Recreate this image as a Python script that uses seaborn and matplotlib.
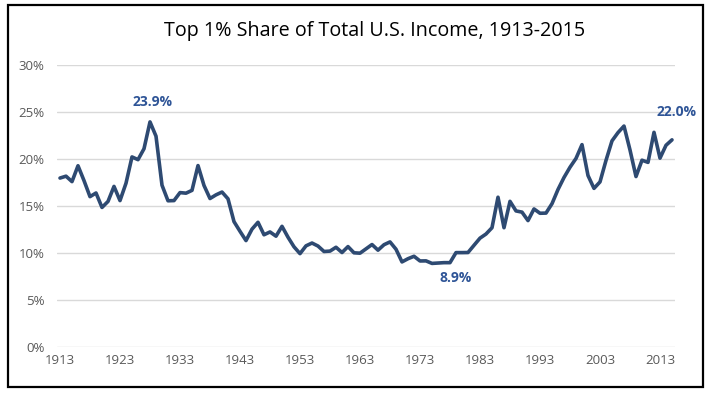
import matplotlib
matplotlib.use("Agg")
import matplotlib.pyplot as plt
import matplotlib.patches as patches
import seaborn as sns
import pandas as pd

years = list(range(1913, 2016))
top1_share = [
    17.96, 18.16, 17.58, 19.27, 17.69, 15.98, 16.37, 14.83, 15.47, 17.07,
    15.56, 17.41, 20.21, 19.92, 21.08, 23.94, 22.42, 17.20, 15.54, 15.56,
    16.41, 16.35, 16.65, 19.29, 17.17, 15.78, 16.17, 16.47, 15.75, 13.32,
    12.29, 11.30, 12.52, 13.25, 11.92, 12.22, 11.77, 12.82, 11.66, 10.64,
    9.91, 10.74, 11.04, 10.72, 10.14, 10.18, 10.59, 10.03, 10.66, 10.00,
    9.96, 10.42, 10.88, 10.28, 10.86, 11.16, 10.38, 9.03, 9.37, 9.63,
    9.13, 9.14, 8.87, 8.91, 8.95, 8.95, 10.02, 10.02, 10.03, 10.80,
    11.56, 12.00, 12.67, 15.92, 12.67, 15.48, 14.46, 14.33, 13.43, 14.67,
    14.21, 14.23, 15.23, 16.74, 18.02, 19.11, 20.05, 21.52, 18.23, 16.86,
    17.55, 19.84, 21.92, 22.80, 23.50, 20.95, 18.12, 19.86, 19.63, 22.83,
    20.08, 21.45, 22.03,
]
xtick_years = list(range(1913, 2016, 10))
ytick_values = [0, 5, 10, 15, 20, 25, 30]
annot_years = [1928, 1976, 2015]
annot_labels = ["23.9%", "8.9%", "22.0%"]

title = "Top 1% Share of Total U.S. Income, 1913-2015"

sns.set_theme(style="white")
plt.rcParams["font.family"] = ["Open Sans", "DejaVu Sans"]

df = pd.DataFrame({"year": years, "share": top1_share})

fig = plt.figure(figsize=(7.15, 3.97), dpi=100)
ax = fig.add_axes([57 / 715, 1 - 346.7 / 397, (675 - 57) / 715, (346.7 - 65) / 397])

sns.lineplot(data=df, x="year", y="share", ax=ax, color="#2E4A72", linewidth=2.6)

ax.set_xlim(1912.5, 2015.5)
ax.set_ylim(0, 30)
ax.set_xticks(xtick_years)
ax.set_xticklabels([str(y) for y in xtick_years], fontsize=9.5, color="#595959")
ax.set_yticks(ytick_values)
ax.set_yticklabels([f"{v}%" for v in ytick_values], fontsize=9.5, color="#595959")
ax.tick_params(axis="both", length=0)
ax.tick_params(axis="x", pad=5)
ax.tick_params(axis="y", pad=9)
ax.grid(axis="y", color="#D9D9D9", linewidth=1)
ax.set_axisbelow(True)
for s in ax.spines.values():
    s.set_visible(False)
ax.set_xlabel("")
ax.set_ylabel("")

share_by_year = dict(zip(years, top1_share))
offsets = {1928: (1.5, 14), 1976: (13, -10.5), 2015: (3.6, 20)}
for yr, lab in zip(annot_years, annot_labels):
    val = share_by_year[yr]
    dx, dy = offsets[yr]
    ax.annotate(lab, xy=(yr, val), xytext=(dx, dy), textcoords="offset points",
                ha="center", va="center", fontsize=10, fontweight="bold",
                color="#2F5597", annotation_clip=False)

fig.text(375 / 715, 1 - 31 / 397, title, ha="center", va="center",
         fontsize=14.2, color="black")

rect = patches.Rectangle((8 / 715, 1 - 387 / 397), (703 - 8) / 715, (387 - 5) / 397,
                         transform=fig.transFigure, fill=False,
                         edgecolor="black", linewidth=1.6)
fig.patches.append(rect)

fig.savefig("out.png", dpi=100)
